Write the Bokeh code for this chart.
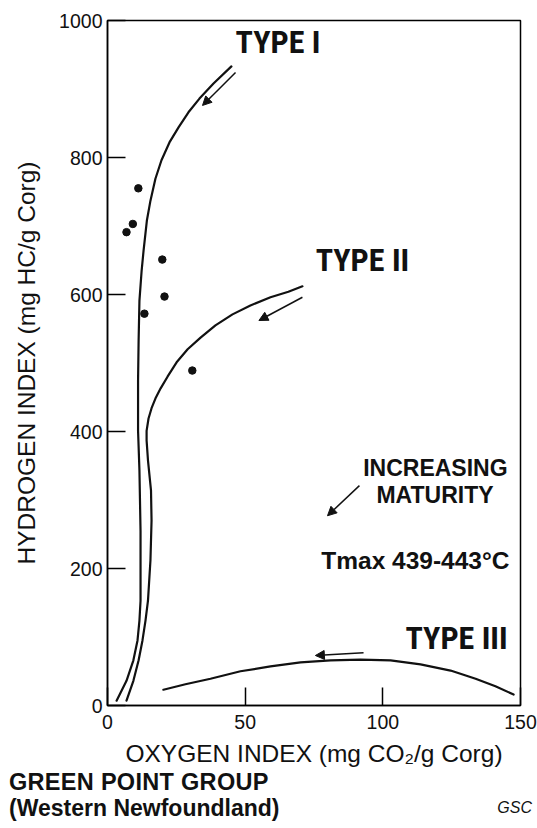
from bokeh.plotting import figure
from bokeh.layouts import column
from bokeh.models import Range1d, FixedTicker, Arrow, NormalHead, Label, Div
from bokeh.embed import file_html
from bokeh.resources import INLINE

# Rock-Eval samples, Green Point Group (oxygen index, hydrogen index)
sample_oi = [11.2, 9.2, 6.9, 19.9, 20.7, 13.4, 30.8]
sample_hi = [755, 703, 691, 651, 597, 572, 489]

# Kerogen evolution paths
type1_oi = [3.3, 6.9, 9.4, 10.9, 11.6, 12.0, 12.0, 11.6, 11.1, 11.1, 11.3, 11.6,
            12.4, 13.1, 14.3, 15.6, 17.4, 19.6, 22.5, 25.8, 29.4, 33.4, 38.5, 45.0]
type1_hi = [7, 36, 66, 95, 124, 153, 255, 343, 401, 474, 533, 591,
            635, 664, 708, 737, 769, 796, 822, 844, 866, 886, 908, 933]

type2_oi = [6.9, 9.4, 11.3, 12.7, 13.8, 14.7, 15.6, 16.0, 15.8, 14.7, 14.2, 14.2,
            14.9, 16.0, 17.4, 19.3, 21.8, 25.1, 29.1, 33.8, 39.2, 45.4, 51.9,
            59.2, 65.7, 70.8]
type2_hi = [7, 36, 66, 95, 124, 153, 212, 270, 314, 358, 387, 401,
            419, 434, 448, 463, 480, 501, 520, 537, 555, 571, 584,
            596, 604, 612]

type3_oi = [20.3, 28.3, 37.4, 48.3, 59.2, 70.1, 81.0, 91.9, 102.8, 113.7,
            124.6, 133.7, 140.9, 147.5]
type3_hi = [23, 31, 39, 50, 57, 63, 66, 67, 66, 60, 51, 39, 28, 16]

# Maturity arrows: start and end points
arrow_oi_start = [46.5, 70.8, 93.0, 91.5]
arrow_hi_start = [924, 596, 77, 321]
arrow_oi_end = [34.5, 55.0, 75.5, 79.9]
arrow_hi_end = [876, 562, 73, 277]

x_ticks = [0, 50, 100, 150]
y_ticks = [0, 200, 400, 600, 800, 1000]

SANS = "Liberation Sans"
NARROW = "Roboto Condensed, DejaVu Sans Condensed, Lato"
INK = "#111111"

p = figure(width=537, height=771,
           x_range=Range1d(0, 150), y_range=Range1d(0, 1000),
           output_backend="svg", toolbar_location=None,
           min_border_left=107, min_border_right=17,
           min_border_top=20, min_border_bottom=66)

p.grid.visible = False
p.background_fill_color = "white"
p.border_fill_color = "white"
p.outline_line_color = "black"
p.outline_line_width = 1.5
p.outline_line_alpha = 1.0

for ax, ticks in ((p.xaxis, x_ticks), (p.yaxis, y_ticks)):
    ax.ticker = FixedTicker(ticks=ticks)
    ax.major_tick_in = 18
    ax.major_tick_out = 0
    ax.minor_tick_in = 0
    ax.minor_tick_out = 0
    ax.axis_line_color = "black"
    ax.axis_line_width = 1.5
    ax.major_tick_line_color = "black"
    ax.major_tick_line_width = 1.5
    ax.major_label_text_font = SANS
    ax.major_label_text_font_size = "19.5px"
    ax.major_label_text_color = INK
    ax.axis_label_text_font = SANS
    ax.axis_label_text_font_style = "normal"
    ax.axis_label_text_font_size = "24.5px"
    ax.axis_label_text_color = INK

p.xaxis.axis_label = "OXYGEN INDEX (mg CO\u2082/g Corg)"
p.yaxis.axis_label = "HYDROGEN INDEX (mg HC/g Corg)"
p.xaxis.major_label_standoff = 9
p.yaxis.major_label_standoff = 5
p.xaxis.axis_label_standoff = 8
p.yaxis.axis_label_standoff = 16

# evolution paths
for xs, ys in ((type1_oi, type1_hi), (type2_oi, type2_hi), (type3_oi, type3_hi)):
    p.line(xs, ys, line_color=INK, line_width=2.2,
           line_join="round", line_cap="round")

# samples
p.scatter(sample_oi, sample_hi, size=7.5, marker="circle",
          fill_color=INK, line_color=INK)

# maturity arrows
for xs, ys, xe, ye in zip(arrow_oi_start, arrow_hi_start, arrow_oi_end, arrow_hi_end):
    p.add_layout(Arrow(end=NormalHead(size=9, fill_color=INK, line_color=INK,
                                      line_width=1),
                       x_start=xs, y_start=ys, x_end=xe, y_end=ye,
                       line_color=INK, line_width=1.5))

# kerogen type labels
type_labels = [("TYPE I", 46.5, 968), ("TYPE II", 75.6, 650), ("TYPE III", 108.2, 98)]
for txt, lx, ly in type_labels:
    p.add_layout(Label(x=lx, y=ly, text=txt, text_font=NARROW,
                       text_font_style="bold", text_font_size="32px",
                       text_align="left", text_baseline="middle",
                       text_color=INK))

# annotation text on the right side of the plot
notes = [("INCREASING", 145.3, 346, "23px"), ("MATURITY", 140.2, 307, "23px"),
         ("Tmax 439-443\u00b0C", 146.0, 212, "24.5px")]
for txt, lx, ly, fs in notes:
    p.add_layout(Label(x=lx, y=ly, text=txt, text_font=SANS,
                       text_font_style="bold", text_font_size=fs,
                       text_align="right", text_baseline="middle",
                       text_color=INK))

# caption under the chart
caption_title = "GREEN POINT GROUP"
caption_sub = "(Western Newfoundland)"
caption_credit = "GSC"

caption_html = (
    '<div style="position:relative;width:537px;height:57px;overflow:visible;'
    'font-family:\'Liberation Sans\',Arial,sans-serif;color:#111111;">'
    '<div style="position:absolute;left:9px;top:0px;font-weight:bold;'
    'font-size:23.5px;line-height:23px;letter-spacing:0.3px;white-space:nowrap;">'
    + caption_title + '</div>'
    '<div style="position:absolute;left:9px;top:25.5px;font-weight:bold;'
    'font-size:23px;line-height:23px;white-space:nowrap;">' + caption_sub + '</div>'
    '<div style="position:absolute;right:5px;top:29px;font-style:italic;'
    'font-size:16px;line-height:16px;white-space:nowrap;">' + caption_credit + '</div>'
    '</div>'
)
cap = Div(text=caption_html, width=537, height=57, margin=0)

layout = column(p, cap, spacing=0)
open("out.html", "w").write(file_html(layout, INLINE))
